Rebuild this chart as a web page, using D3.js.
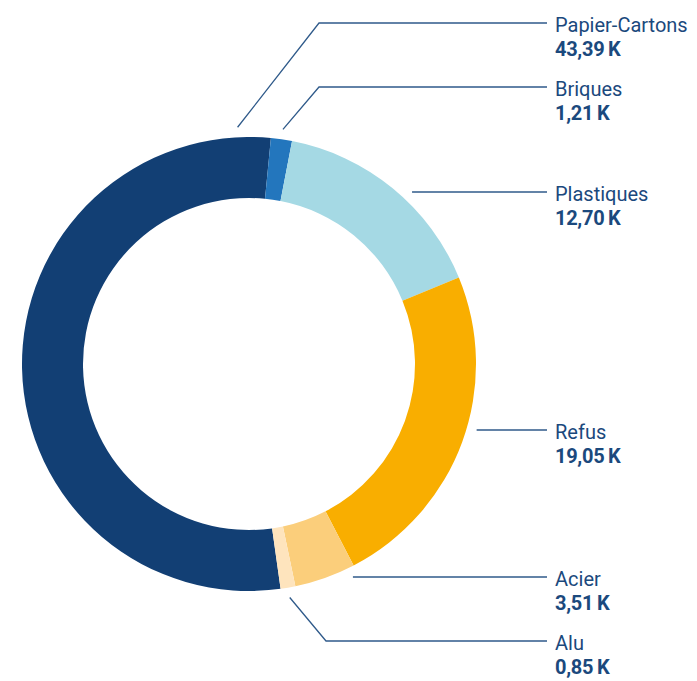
<!DOCTYPE html>
<html>
<head>
<meta charset="utf-8">
<script src="https://cdn.jsdelivr.net/npm/d3@7"></script>
<style>
  body { margin: 0; background: #fff; }
  svg { display: block; font-family: Roboto, sans-serif; }
</style>
</head>
<body>
<svg id="chart" width="697" height="681"></svg>
<script>
// data
const categories = ['Papier-Cartons', 'Briques', 'Plastiques', 'Refus', 'Acier', 'Alu'];
const values = [43.39, 1.21, 12.70, 19.05, 3.51, 0.85];
const colors = ['#123f74', '#2376bd', '#a5d9e4', '#f9ae00', '#fbce7b', '#fee4bd'];

// label layout: line y and elbow x for the bent leaders
const labelY = [23, 87, 192, 430, 577, 641];
const elbowX = [319, 319, null, null, null, 326];

const cx = 249;
const cy = 364;
const outerR = 227;
const innerR = 166;
const leaderR = 237;
const lineEnd = 547;
const textX = 555;
const textColor = '#1b497d';
const lineColor = '#2f5a8a';

const $svg = d3.select('#chart');
const $g = $svg.append('g').attr('transform', `translate(${cx},${cy})`);

const toRad = d => d * Math.PI / 180;
const start = toRad(-188);

const pie = d3.pie().sort(null).value(d => d.value)
  .startAngle(start).endAngle(start + 2 * Math.PI);
const arc = d3.arc().innerRadius(innerR).outerRadius(outerR);

const data = categories.map((name, i) => ({ name, value: values[i], color: colors[i] }));
const arcs = pie(data);

$g.selectAll('.slice')
  .data(arcs)
  .enter()
  .append('path')
  .attr('class', 'slice')
  .attr('d', arc)
  .attr('fill', d => d.data.color);

const fmt = v => d3.format('.2f')(v).replace('.', ',') + '\u2009K';

// anchor on leader circle
function anchor(d, i) {
  const y = labelY[i] - cy;
  if (elbowX[i] == null) {
    const dx = Math.sqrt(leaderR * leaderR - y * y);
    return [dx, y];
  }
  let a = (d.startAngle + d.endAngle) / 2;
  // the big slice is labelled near its top end
  if (d.endAngle - d.startAngle > Math.PI) a = d.endAngle - toRad(8.3);
  return [leaderR * Math.sin(a), -leaderR * Math.cos(a)];
}

const $labels = $svg.append('g');

arcs.forEach((d, i) => {
  const [ax, ay] = anchor(d, i);
  const pts = [[cx + ax, cy + ay]];
  if (elbowX[i] != null) pts.push([elbowX[i], labelY[i]]);
  pts.push([lineEnd, labelY[i]]);

  $labels.append('path')
    .attr('d', d3.line()(pts))
    .attr('fill', 'none')
    .attr('stroke', lineColor)
    .attr('stroke-width', 1.3);

  $labels.append('text')
    .attr('x', textX)
    .attr('y', labelY[i] + 9)
    .attr('fill', textColor)
    .attr('font-size', 20)
    .text(d.data.name);

  $labels.append('text')
    .attr('x', textX)
    .attr('y', labelY[i] + 33)
    .attr('fill', textColor)
    .attr('font-size', 20)
    .attr('font-weight', 'bold')
    .attr('letter-spacing', -0.3)
    .text(fmt(d.data.value));
});
</script>
</body>
</html>
